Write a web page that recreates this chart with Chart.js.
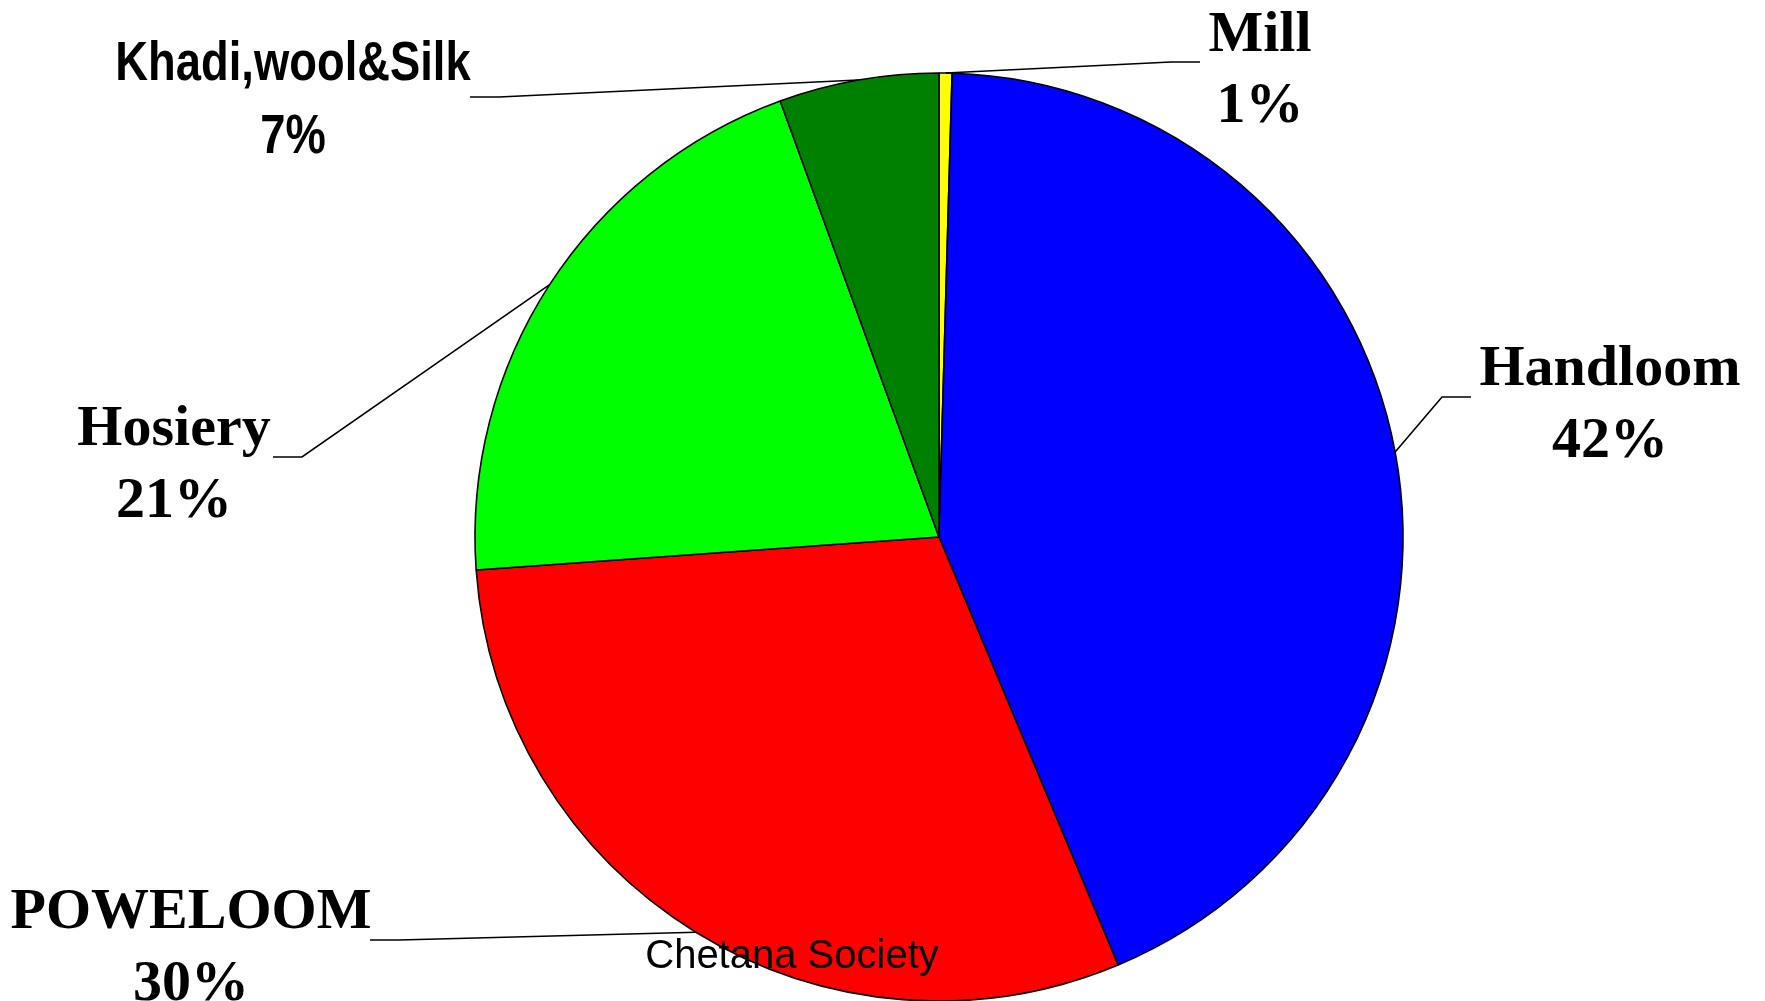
<!DOCTYPE html>
<html>
<head>
<meta charset="utf-8">
<title>Textile sector share</title>
<script src="https://cdn.jsdelivr.net/npm/chart.js@4.4.1/dist/chart.umd.min.js"></script>
<style>
    body { margin: 0; background: #ffffff; overflow: hidden; }
    #pieChart { display: block; }
</style>
</head>
<body>
<canvas id="pieChart" width="1765" height="1001"></canvas>
<script>

// slice order clockwise from 12 o'clock
const categories = ["Mill", "Handloom", "POWELOOM", "Hosiery", "Khadi,wool&Silk"];
const shareValues = [0.45, 43.25, 30.18, 20.58, 5.56];
const percentLabels = ["1%", "42%", "30%", "21%", "7%"];
const sliceColors = ["#ffff00", "#0000ff", "#ff0000", "#00ff00", "#008000"];

// where each callout sits (text centre, baselines, leader elbow)
const calloutLayout = [
    { cx: 1260, nameY: 51,  pctY: 122,  lineY: 62,  outerX: 1200, elbowX: 1171 },
    { cx: 1610, nameY: 385, pctY: 457,  lineY: 397, outerX: 1471, elbowX: 1442 },
    { cx: 191,  nameY: 928, pctY: 1000, lineY: 940, outerX: 370,  elbowX: 399 },
    { cx: 174,  nameY: 445, pctY: 517,  lineY: 457, outerX: 273,  elbowX: 302 },
    { cx: 293,  nameY: 80,  pctY: 153,  lineY: 97,  outerX: 470,  elbowX: 499, sans: true }
];

const calloutPlugin = {
    id: "callouts",
    afterDatasetsDraw(chart) {
        const ctx = chart.ctx;
        const arcs = chart.getDatasetMeta(0).data;

        arcs.forEach((arc, i) => {
            const lay = calloutLayout[i];
            const mid = (arc.startAngle + arc.endAngle) / 2;
            const px = arc.x + Math.cos(mid) * arc.outerRadius;
            const py = arc.y + Math.sin(mid) * arc.outerRadius;

            // leader line
            ctx.save();
            ctx.strokeStyle = "#000000";
            ctx.lineWidth = 1.6;
            ctx.beginPath();
            ctx.moveTo(lay.outerX, lay.lineY);
            ctx.lineTo(lay.elbowX, lay.lineY);
            ctx.lineTo(px, py);
            ctx.stroke();
            ctx.restore();

            // label text
            ctx.save();
            ctx.fillStyle = "#000000";
            ctx.textAlign = "center";
            ctx.textBaseline = "alphabetic";
            if (lay.sans) {
                ctx.font = "bold 56px 'Liberation Sans', Arial, sans-serif";
                ctx.translate(lay.cx, 0);
                ctx.scale(0.81, 1);
                ctx.fillText(categories[i], 0, lay.nameY);
                ctx.fillText(percentLabels[i], 0, lay.pctY);
            } else {
                ctx.font = "bold 58px 'Liberation Serif', 'Times New Roman', serif";
                ctx.fillText(categories[i], lay.cx, lay.nameY);
                ctx.fillText(percentLabels[i], lay.cx, lay.pctY);
            }
            ctx.restore();
        });

        // source note
        ctx.save();
        ctx.fillStyle = "#000000";
        ctx.font = "40px 'Liberation Sans', Arial, sans-serif";
        ctx.textAlign = "center";
        ctx.fillText("Chetana Society", 792, 968);
        ctx.restore();
    }
};

window.addEventListener("load", () => {

    const canvas = document.getElementById("pieChart");

    new Chart(canvas, {
        type: "pie",

        data: {
            labels: categories,
            datasets: [{
                data: shareValues,
                backgroundColor: sliceColors,
                borderColor: "#000000",
                borderWidth: 1.6,
                radius: 464
            }]
        },

        options: {
            responsive: false,
            devicePixelRatio: 1,
            animation: false,
            events: [],
            layout: {
                padding: { top: 73, bottom: 0, left: 113, right: 0 }
            },
            plugins: {
                legend: { display: false },
                tooltip: { enabled: false }
            }
        },

        plugins: [calloutPlugin]
    });

});
</script>
</body>
</html>
